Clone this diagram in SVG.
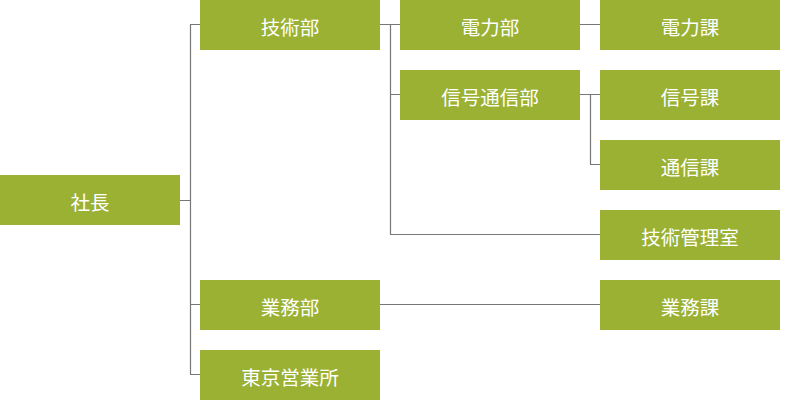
<svg xmlns="http://www.w3.org/2000/svg" width="800" height="400" viewBox="0 0 800 400">
<style>
.box{fill:#9bb133}
.lbl{fill:#fff;font-family:"Noto Sans CJK JP","Noto Sans",sans-serif;font-size:19.5px;text-anchor:middle;dominant-baseline:central}
.ln{stroke:#777;stroke-width:1.2;fill:none}
</style>
<rect width="800" height="400" fill="#fff"/>
<g id="connectors">
<path class="ln" d="M190.5 24.5V374.5M190 24.5H200M180 200.5H190M190 304.5H200M190 374.5H200"/>
<path class="ln" d="M380 24.5H400M390.5 24.5V234.5M390 94.5H400M390 234.5H600"/>
<path class="ln" d="M580 24.5H600M580 94.5H600M590.5 94.5V164.5M590 164.5H600"/>
<path class="ln" d="M380 304.5H600"/>
</g>
<g id="n-shacho"><rect class="box" x="0" y="175" width="180" height="50"/><text class="lbl" x="90" y="201.5">社長</text></g>
<g id="n-gijutsubu"><rect class="box" x="200" y="0" width="180" height="50"/><text class="lbl" x="290" y="26.5">技術部</text></g>
<g id="n-gyomubu"><rect class="box" x="200" y="280" width="180" height="50"/><text class="lbl" x="290" y="306.5">業務部</text></g>
<g id="n-tokyo"><rect class="box" x="200" y="350" width="180" height="50"/><text class="lbl" x="290" y="376.5">東京営業所</text></g>
<g id="n-denryokubu"><rect class="box" x="400" y="0" width="180" height="50"/><text class="lbl" x="490" y="26.5">電力部</text></g>
<g id="n-shingotsushinbu"><rect class="box" x="400" y="70" width="180" height="50"/><text class="lbl" x="490" y="96.5">信号通信部</text></g>
<g id="n-denryokuka"><rect class="box" x="600" y="0" width="180" height="50"/><text class="lbl" x="690" y="26.5">電力課</text></g>
<g id="n-shingoka"><rect class="box" x="600" y="70" width="180" height="50"/><text class="lbl" x="690" y="96.5">信号課</text></g>
<g id="n-tsushinka"><rect class="box" x="600" y="140" width="180" height="50"/><text class="lbl" x="690" y="166.5">通信課</text></g>
<g id="n-kanri"><rect class="box" x="600" y="210" width="180" height="50"/><text class="lbl" x="690" y="236.5">技術管理室</text></g>
<g id="n-gyomuka"><rect class="box" x="600" y="280" width="180" height="50"/><text class="lbl" x="690" y="306.5">業務課</text></g>
</svg>
